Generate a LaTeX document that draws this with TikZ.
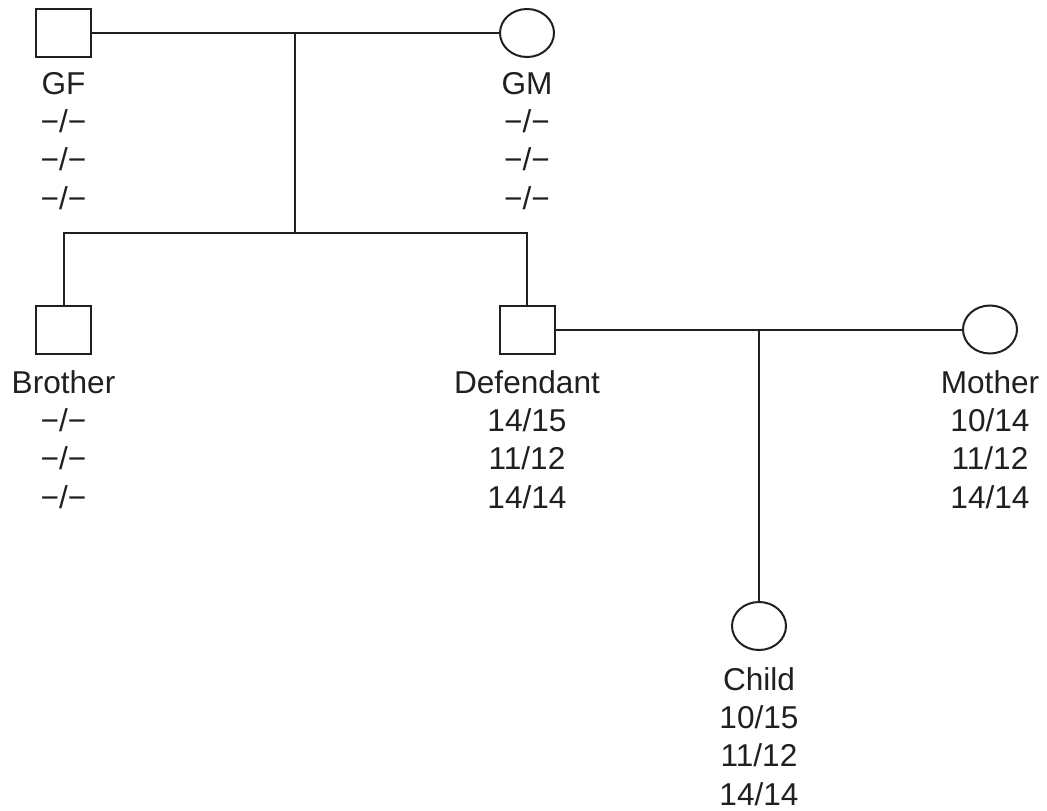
\documentclass[tikz,border=0pt]{standalone}
\usepackage{fontspec}
\setmainfont{Liberation Sans}
\usetikzlibrary{shapes.geometric}
\definecolor{ink}{RGB}{35,31,32}

\begin{document}
\begin{tikzpicture}[x=1pt,y=1pt,
    male/.style={draw=ink,line width=2pt,rectangle,inner sep=0pt,minimum width=55pt,minimum height=48pt},
    female/.style={draw=ink,line width=2pt,ellipse,inner sep=0pt,minimum width=54pt,minimum height=48pt},
    info/.style={anchor=north,inner sep=0pt,align=center,text=ink,font=\fontsize{31.6}{38.3}\selectfont},
    link/.style={draw=ink,line width=2pt}]
    \useasboundingbox (0,0) rectangle (1047,-811);

    \node[male] (gf) at (63.5,-33) {};
    \node[female] (gm) at (527,-33) {};
    \node[male] (bro) at (63.5,-329.5) {};
    \node[male] (def) at (527,-329.5) {};
    \node[female] (mom) at (990,-329.5) {};
    \node[female] (child) at (759,-626) {};

    \node[info] (gft) at (63.5,-72) {GF\\−/−\\−/−\\−/−};
    \node[info] (gmt) at (527,-72) {GM\\−/−\\−/−\\−/−};
    \node[info] (brot) at (63.5,-370) {Brother\\−/−\\−/−\\−/−};
    \node[info] (deft) at (527,-370) {Defendant\\14/15\\11/12\\14/14};
    \node[info] (momt) at (990,-370) {Mother\\10/14\\11/12\\14/14};
    \node[info] (childt) at (759,-667) {Child\\10/15\\11/12\\14/14};

    \coordinate (mate1) at (295,-33);
    \coordinate (sib) at (295,-233);
    \coordinate (mate2) at (759,-329.5);

    \path[link]
    (gf.east) edge (gm.west)
    (mate1) edge (sib)
    (def.east) edge (mom.west)
    (mate2) edge (child.north);
    \draw[link] (bro.north) |- (sib) -| (def.north);
\end{tikzpicture}
\end{document}
